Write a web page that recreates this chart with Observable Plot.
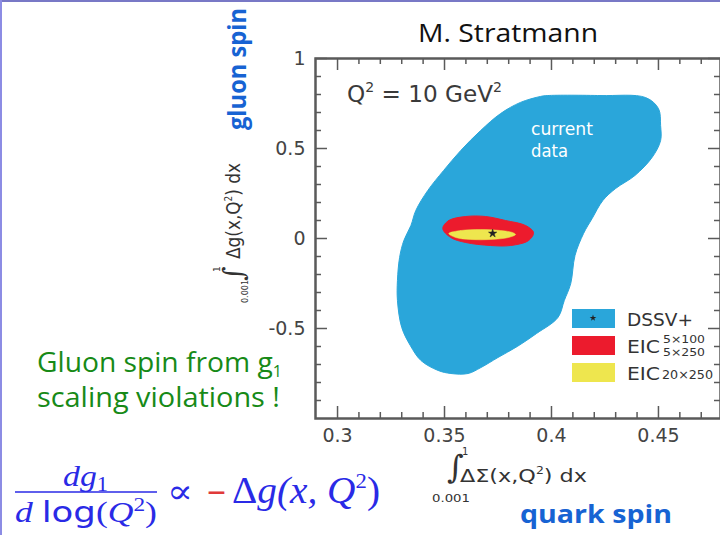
<!DOCTYPE html>
<html><head><meta charset="utf-8">
<script src="https://cdn.jsdelivr.net/npm/d3@7"></script>
<script src="https://cdn.jsdelivr.net/npm/@observablehq/plot@0.6"></script>
<style>
html,body{margin:0;padding:0;background:#fff;}
#chart{position:relative;width:720px;height:535px;overflow:hidden;}
</style></head><body><div id="chart"></div>
<script>
// ---- data ----
const xMajor = [0.3, 0.35, 0.4, 0.45];
const xMinor = [0.31,0.32,0.33,0.34,0.36,0.37,0.38,0.39,0.41,0.42,0.43,0.44,0.46,0.47];
const yMajor = [-0.5, 0, 0.5, 1];
const yMinor = [-0.9,-0.8,-0.7,-0.6,-0.4,-0.3,-0.2,-0.1,0.1,0.2,0.3,0.4,0.6,0.7,0.8,0.9];

// DSSV+ "current data" region
const currentX = [0.398,0.423,0.444,0.450,0.451,0.451,0.447,0.439,0.430,0.424,0.419,0.415,0.411,0.409,0.406,0.403,0.393,0.384,0.375,0.367,0.361,0.353,0.347,0.339,0.334,0.330,0.328,0.328,0.329,0.331,0.3343,0.3366,0.3422,0.3496,0.3576,0.3669,0.3762,0.3855,0.3948];
const currentY = [0.794,0.794,0.783,0.722,0.628,0.544,0.45,0.35,0.278,0.211,0.111,0.028,-0.094,-0.25,-0.344,-0.439,-0.528,-0.6,-0.661,-0.717,-0.75,-0.75,-0.733,-0.678,-0.594,-0.494,-0.344,-0.233,-0.106,-0.011,0.072,0.156,0.267,0.378,0.489,0.6,0.694,0.756,0.789];
// EIC 5x100 / 5x250
const eicAX = [0.3492,0.3520,0.3599,0.3692,0.3785,0.3879,0.3916,0.3893,0.3809,0.3715,0.3599,0.3529];
const eicAY = [0.0556,0.1,0.1222,0.1222,0.1,0.0722,0.0333,-0.0111,-0.0389,-0.0389,-0.0222,0.0056];
// EIC 20x250
const eicBX = [0.3520,0.3576,0.3669,0.3762,0.3818,0.3832,0.3799,0.3715,0.3622,0.3552];
const eicBY = [0.0278,0.0444,0.05,0.0444,0.0333,0.0222,0.0056,-0.0056,-0.0056,0.0056];
// best fit
const bestX = [0.3725];
const bestY = [0.028];

const legendNames = ["DSSV+", "EIC", "EIC"];
const legendSubs = [[], ["5×100", "5×250"], ["20×250"]];
const colors = {current: "#2aa6da", eicA: "#ec1b2d", eicB: "#eee64e"};
const legendColors = [colors.current, colors.eicA, colors.eicB];

const toPts = (xs, ys) => xs.map((x, i) => ({x, y: ys[i]}));
const current = toPts(currentX, currentY);
const eicA = toPts(eicAX, eicAY);
const eicB = toPts(eicBX, eicBY);
const best = toPts(bestX, bestY);

const axisColor = "#5a5a5a";
const fh = 360, fw = 405;

const plot = Plot.plot({
  width: 720, height: 535,
  marginLeft: 315, marginRight: 0, marginTop: 58, marginBottom: 117,
  x: {domain: [0.2897, 0.479]},
  y: {domain: [-1, 1]},
  style: {fontFamily: "DejaVu Sans", background: "transparent"},
  marks: [
    Plot.line(current, {x: "x", y: "y", curve: "catmull-rom-closed", fill: colors.current, stroke: colors.current, strokeWidth: 1}),
    Plot.line(eicA, {x: "x", y: "y", curve: "catmull-rom-closed", fill: colors.eicA, stroke: colors.eicA, strokeWidth: 1}),
    Plot.line(eicB, {x: "x", y: "y", curve: "catmull-rom-closed", fill: colors.eicB, stroke: colors.eicB, strokeWidth: 0.5}),
    Plot.dot(best, {x: "x", y: "y", symbol: "star", r: 2.6, fill: "#222", stroke: "#222", strokeWidth: 0.5}),
    // inward ticks, all four sides
    Plot.tickX(xMinor, {x: d => d, insetTop: fh - 6, stroke: axisColor, strokeWidth: 1.5}),
    Plot.tickX(xMinor, {x: d => d, insetBottom: fh - 6, stroke: axisColor, strokeWidth: 1.5}),
    Plot.tickX(xMajor, {x: d => d, insetTop: fh - 12, stroke: axisColor, strokeWidth: 1.5}),
    Plot.tickX(xMajor, {x: d => d, insetBottom: fh - 12, stroke: axisColor, strokeWidth: 1.5}),
    Plot.tickY(yMinor, {y: d => d, insetRight: fw - 6, stroke: axisColor, strokeWidth: 1.5}),
    Plot.tickY(yMinor, {y: d => d, insetLeft: fw - 6, stroke: axisColor, strokeWidth: 1.5}),
    Plot.tickY(yMajor, {y: d => d, insetRight: fw - 12, stroke: axisColor, strokeWidth: 1.5}),
    Plot.tickY(yMajor, {y: d => d, insetLeft: fw - 12, stroke: axisColor, strokeWidth: 1.5}),
    Plot.frame({stroke: axisColor, strokeWidth: 2.5}),
    Plot.axisX(xMajor, {tickSize: 0, tickPadding: 10, fontSize: 19, fill: "#444", label: null, tickFormat: d => String(d)}),
    Plot.axisY(yMajor, {tickSize: 0, tickPadding: 10, fontSize: 19, fill: "#444", label: null, tickFormat: d => String(d)})
  ]
});
document.getElementById("chart").appendChild(plot);

// ---- annotation text ----
const svg = d3.select(plot);
const g = svg.append("g").attr("text-anchor", "start");
function txt(parent, x, y, parts, opt = {}) {
  const t = parent.append("text").attr("x", x).attr("y", y)
    .attr("text-anchor", opt.anchor || "start")
    .attr("font-family", opt.family || "DejaVu Sans")
    .attr("font-size", opt.size || 16)
    .attr("font-weight", opt.weight || "normal")
    .attr("fill", opt.fill || "#333");
  if (opt.style) t.attr("font-style", opt.style);
  if (opt.len) t.attr("textLength", opt.len).attr("lengthAdjust", "spacingAndGlyphs");
  for (const p of (typeof parts === "string" ? [{t: parts}] : parts)) {
    const s = t.append("tspan").text(p.t);
    if (p.dy) s.attr("dy", p.dy);
    if (p.size) s.attr("font-size", p.size);
    if (p.family) s.attr("font-family", p.family);
    if (p.style) s.attr("font-style", p.style);
    if (p.fill) s.attr("fill", p.fill);
  }
  return t;
}

// slide borders
g.append("rect").attr("x", 0).attr("y", 0).attr("width", 720).attr("height", 2).attr("fill", "#7878c6");
g.append("rect").attr("x", 0).attr("y", 0).attr("width", 2).attr("height", 535).attr("fill", "#8c8ce4");

// title
txt(g, 418, 42, "M. Stratmann", {size: 25, family: "Open Sans", fill: "#111", len: 180});
// Q^2 label
txt(g, 347, 102, [{t: "Q"}, {t: "2", size: 14, dy: -10}, {t: " = 10 GeV", dy: 10}, {t: "2", size: 14, dy: -10}], {size: 23, fill: "#3a3a3a", len: 155});
// current data
txt(g, 531, 135, "current", {size: 17, fill: "#fff", len: 62});
txt(g, 531, 157, "data", {size: 17, fill: "#fff", len: 37});

// legend
const lx = 572, ly = 309, lh = 27;
legendNames.forEach((name, i) => {
  g.append("rect").attr("x", lx).attr("y", ly + i * lh).attr("width", 43).attr("height", 19).attr("fill", legendColors[i]);
  txt(g, 627, ly + i * lh + 17, name, {size: 18, fill: "#333", len: i === 0 ? 66 : 33});
  const subs = legendSubs[i];
  if (subs.length === 2) {
    txt(g, 663, ly + i * lh + 7, subs[0], {size: 11, fill: "#333", len: 42});
    txt(g, 663, ly + i * lh + 20, subs[1], {size: 11, fill: "#333", len: 42});
  } else if (subs.length === 1) {
    txt(g, 662, ly + i * lh + 16, subs[0], {size: 12, fill: "#333", len: 51});
  }
});
g.append("path").attr("d", d3.symbol(d3.symbolStar, 14)()).attr("transform", "translate(593,318)").attr("fill", "#222");

// y axis label (rotated)
const yl = g.append("g").attr("transform", "translate(240,303) rotate(-90)");
txt(yl, 0, 8, "0.001", {size: 9, fill: "#333", len: 23});
txt(yl, 22, 3, "∫", {size: 28, family: "DejaVu Serif", style: "italic", fill: "#333"});
txt(yl, 31, -20, "1", {size: 9, fill: "#333"});
txt(yl, 44, 0, [{t: "Δg(x,Q"}, {t: "2", size: 10, dy: -8}, {t: ") dx", dy: 8}], {size: 19, fill: "#333", len: 96});

// x axis label
txt(g, 447, 478, "∫", {size: 32, family: "DejaVu Serif", style: "italic", fill: "#333"});
txt(g, 462, 455, "1", {size: 10, fill: "#333"});
txt(g, 432, 502, "0.001", {size: 11, fill: "#333", len: 38});
txt(g, 460, 482, [{t: "ΔΣ(x,Q"}, {t: "2", size: 10, dy: -8}, {t: ") dx", dy: 8}], {size: 18, fill: "#333", len: 127});

// spin labels
const gl = g.append("g").attr("transform", "translate(246,130) rotate(-90)");
txt(gl, 0, 0, "gluon spin", {size: 25, weight: "bold", family: "Open Sans", fill: "#1763d3", len: 122});
txt(g, 520, 523, "quark spin", {size: 25, weight: "bold", family: "Open Sans", fill: "#1763d3", len: 152});

// green remark
const green = "#178a17";
txt(g, 37, 372, [{t: "Gluon spin from g"}, {t: "1", size: 16, dy: 5}], {size: 28, family: "Open Sans", fill: green, len: 245});
txt(g, 37, 407, "scaling violations !", {size: 28, family: "Open Sans", fill: green, len: 243});

// formula
const fb = "#2a2ae6";
txt(g, 63, 486, [{t: "dg", style: "italic"}, {t: "1", size: 20, dy: 5}], {size: 30, family: "Liberation Serif", fill: fb, len: 45});
g.append("line").attr("x1", 15).attr("x2", 157).attr("y1", 492).attr("y2", 492).attr("stroke", fb).attr("stroke-width", 1.6);
txt(g, 15, 522, [{t: "d ", style: "italic"}, {t: "log", family: "DejaVu Sans"}, {t: "("}, {t: "Q", style: "italic"}, {t: "2", size: 19, dy: -11}, {t: ")", dy: 11}], {size: 29, family: "Liberation Serif", fill: fb, len: 142});
txt(g, 167, 503, "∝", {size: 34, family: "DejaVu Serif", fill: fb, len: 26});
txt(g, 206, 502, "−", {size: 30, family: "DejaVu Serif", fill: "#e03a3a", len: 21});
txt(g, 232, 503, [{t: "Δ"}, {t: "g(x, Q", style: "italic"}, {t: "2", size: 22, dy: -15}, {t: ")", dy: 15}], {size: 38, family: "Liberation Serif", fill: fb, len: 148});
</script></body></html>
